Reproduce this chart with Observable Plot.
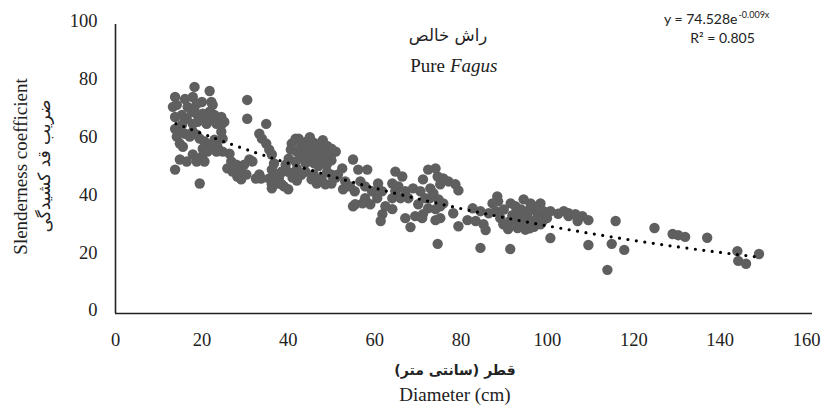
<!DOCTYPE html>
<html>
<head>
<meta charset="utf-8">
<script src="https://cdn.jsdelivr.net/npm/d3@7"></script>
<script src="https://cdn.jsdelivr.net/npm/@observablehq/plot@0.6"></script>
<style>
  body { margin: 0; background: #fff; }
  #chart { width: 822px; height: 410px; }
</style>
</head>
<body>
<div id="chart"></div>
<script>
// ---- Data ----
const diameter = [
  18.3,21.8,13.8,16.1,17.9,13.3,14.2,16.7,18.8,20,22.2,22.5,21.8,20.2,18.8,17.7,16.5,15.4,13.8,22.2,22.9,
  20.6,19,17.9,21.1,22.5,23.4,24.5,24.5,25.2,13.8,14.4,14.2,15.4,16.1,17.2,17.9,18.8,14.9,15.6,
  19.5,20.6,21.8,20.2,21.3,22.9,23.6,24.5,24.8,23.4,14.9,16.5,17.9,18.8,20,20.6,13.8,19.5,
  24.8,26.4,26.8,25.9,27.1,28.2,29.1,29.8,31,31.7,28,29.1,30.3,33.3,34.9,33.3,33.9,34.9,35.6,36.2,36.7,
  36.2,37.2,37.8,36.2,35.6,38.5,39.4,40.1,40.6,40.8,41.7,33.7,30.5,30.5,32.5,36.2,
  42.4,44.3,45.9,48.2,48.9,42.9,45.2,47.5,48.9,41.7,43,44,46,47,49,50,43,44,45,46,47,49,50,46,47,44,43,45,48,50,51,42,44,46,
  45.9,47.7,48.6,46.6,45.4,38,39,40,41,42,40,37,38,42,43,44,49,50,51,50,38.5,37,38.5,
  55,52.5,56.2,58.3,51.5,53.2,52.7,55.4,54.3,55,56.7,57.8,59.4,60.8,61.7,57.8,59,57.2,60.6,55.5,
  62.5,64.1,61.8,61.4,64.8,66.4,64.1,65.5,67.1,67.8,66,64.8,64.1,67.1,68.3,69.4,71,68.9,70.6,71.2,72.4,71.7,70.1,72.8,72.4,71.2,
  74.1,74.6,75.9,77.1,78.7,79.4,75.2,73.6,72.9,74.8,75.9,75.2,74.1,78.2,75.2,74.1,79.4,74.6,
  82.7,84.5,86.4,81.5,83.4,85.2,85.7,84.5,88.4,88.6,87.3,88,89.1,89.8,90.9,91.4,91.4,
  91.5,92.6,94.5,96.1,98.4,93.1,95.4,97.7,99.1,96.8,94.5,93.1,98.4,100.7,100.7,
  91.9,93.9,94.9,95.9,96.9,97.9,98.9,92.9,94.9,96.9,99.9,93.9,89.9,95.9,
  103.8,104.9,108.1,109.5,104.9,106.5,107,102.5,109.5,
  115.8,114.9,117.8,113.9,124.8,129,130.3,131.9,137,144,144.2,146,149
];
const slenderness = [
  78.4,77,74.9,74.2,74.9,71.5,72.2,71.5,72.5,73.2,73.2,72.2,69.8,69.1,69.1,69.8,67.4,68.7,68,69.1,68.7,
  67.4,66.3,65.6,65.6,67,65.6,68,65.3,66.3,63.9,62.9,61.2,65.3,62.2,61.2,62.9,61.9,58.8,57.7,
  60.5,59.5,58.4,57,56,60.1,57.7,62.9,60.5,56,53.3,52.6,55,52.6,54.3,52.6,49.8,45,
  56,55.3,52.6,50.2,49.1,47.4,46.4,51.5,53.3,52.6,51.5,49.1,48.1,48.1,65.6,62.2,60.5,58.8,56.7,55,51.9,
  49.8,47.4,46.7,44.7,46.7,49.1,51.5,53.6,56.7,58.8,60.5,46.7,73.9,67.4,46.7,43.3,
  60.5,59.5,57,57.7,55.3,55,53.6,53.6,51.5,52.6,58,57,59,58,58,57,54,55,56,55,56,54,55,52,51,52,57,61,60,53,56,56,54,54,
  48.1,46.7,44.7,45,46.4,45,44,43,47,46,49,45,48,50,48,49,49,48,47,45,49,46.4,44.7,
  53.3,50.2,49.8,49.8,48.1,45.7,43,42.3,44,37.1,45.7,44,42.3,45,42.3,39.9,37.8,38.1,39.9,37.8,
  37.1,36.1,34.4,32,49.1,47.4,45,44,42.3,39.9,39.9,42.3,39.9,33,29.9,33.7,33,43.3,42.3,46.4,49.8,39.9,37.8,39.9,36.4,34.4,
  50.2,47.4,46.7,45.7,44.7,42.6,44.7,41.6,43.3,39.5,38.1,37.1,36.1,34.7,33,32.3,30.2,24.1,
  36.4,35.4,34.7,32.3,32,30.9,28.9,22.7,40.5,38.8,38.1,35.4,33,30.9,29.2,32,22.3,
  38.1,37.1,39.5,38.1,38.1,35.4,34.4,34.7,35.4,32,30.9,29.6,30.9,35.4,26.1,
  34,36,32,36,37,33,32,31,29,30,33,33,36,29.5,
  35.4,33.7,33.7,32.3,34.7,34.4,32,34.5,23.7,
  32,24.1,22,15.1,29.6,27.5,27.1,26.5,26.2,21.6,18.2,17.2,20.6
];
// Exponential trend line as drawn in the reference (y = 74.528e^-0.009x)
const trendX = [14, 30, 50, 70, 90, 110, 130, 149];
const trendY = [65.7, 56.9, 47.5, 39.7, 33.2, 27.7, 23.1, 19.5];

const xTicks = [0, 20, 40, 60, 80, 100, 120, 140, 160];
const yTicks = [0, 20, 40, 60, 80, 100];

const titleFa = "راش خالص";
const titleEnA = "Pure";
const titleEnB = "Fagus";
const yLabelEn = "Slenderness coefficient";
const yLabelFa = "ضریب قد کشیدگی";
const xLabelFa = "قطر (سانتی متر)";
const xLabelEn = "Diameter (cm)";
const eqMain = "y = 74.528e";
const eqExp = "-0.009x";
const eqR2 = "R² = 0.805";

const points = diameter.map((d, i) => ({d, s: slenderness[i]}));
const trend = trendX.map((d, i) => ({d, s: trendY[i]}));

const serif = "Liberation Serif, 'Times New Roman', DejaVu Serif, DejaVu Sans, serif";
const sans = "Lato, Liberation Sans, sans-serif";
const arabic = "DejaVu Sans, sans-serif";

const T = (txt, opts) => Plot.text([txt], {text: d => d, lineAnchor: "middle", ...opts});

const chart = Plot.plot({
  width: 822,
  height: 410,
  marginLeft: 115,
  marginRight: 16,
  marginTop: 24,
  marginBottom: 97,
  style: {fontFamily: serif, fontSize: "18px", color: "#222", background: "#fff"},
  x: {domain: [0, 160]},
  y: {domain: [0, 100]},
  marks: [
    Plot.axisX({ticks: xTicks, tickSize: 0, tickPadding: 19, label: null, fontSize: 18.5, fontFamily: serif}),
    Plot.axisY({ticks: yTicks, tickSize: 0, tickPadding: 18, label: null, fontSize: 18.5, fontFamily: serif, dy: -3}),
    Plot.ruleY([0], {stroke: "#222", strokeWidth: 1.6, insetRight: -6}),
    Plot.ruleX([0], {stroke: "#222", strokeWidth: 1.6}),
    Plot.dot(points, {x: "d", y: "s", r: 5.2, fill: "#5f5f5f", stroke: "none"}),
    Plot.line(trend, {x: "d", y: "s", curve: "natural", stroke: "#000", strokeWidth: 3.2,
      strokeDasharray: "0,8.5", strokeLinecap: "round"}),
    // titles inside the plot
    T(titleFa, {frameAnchor: "top", textAnchor: "middle", dx: -13, dy: 11, fontSize: 16.5, fontFamily: arabic}),
    T(titleEnA, {frameAnchor: "top", textAnchor: "end", dx: -16, dy: 41, fontSize: 19, fontFamily: serif}),
    T(titleEnB, {frameAnchor: "top", textAnchor: "start", dx: -11, dy: 41, fontSize: 19, fontFamily: serif, fontStyle: "italic"}),
    // equation
    T(eqMain, {frameAnchor: "top-right", textAnchor: "end", dx: -69, dy: -5, fontSize: 14, fontFamily: sans}),
    T(eqExp, {frameAnchor: "top-right", textAnchor: "start", dx: -68, dy: -9, fontSize: 9, fontFamily: sans}),
    T(eqR2, {frameAnchor: "top-right", textAnchor: "middle", dx: -84, dy: 14, fontSize: 14, fontFamily: sans}),
    // axis titles
    T(yLabelEn, {frameAnchor: "left", textAnchor: "middle", dx: -95, dy: -2.5, rotate: -90, fontSize: 19, fontFamily: serif}),
    T(yLabelFa, {frameAnchor: "left", textAnchor: "middle", dx: -71, dy: -3, rotate: -90, fontSize: 17, fontFamily: arabic}),
    T(xLabelFa, {frameAnchor: "bottom", textAnchor: "middle", dx: -6, dy: 57, fontSize: 14, fontWeight: "bold", fontFamily: arabic}),
    T(xLabelEn, {frameAnchor: "bottom", textAnchor: "middle", dx: -6, dy: 81, fontSize: 19, fontFamily: serif})
  ]
});
document.getElementById("chart").append(chart);
</script>
</body>
</html>
